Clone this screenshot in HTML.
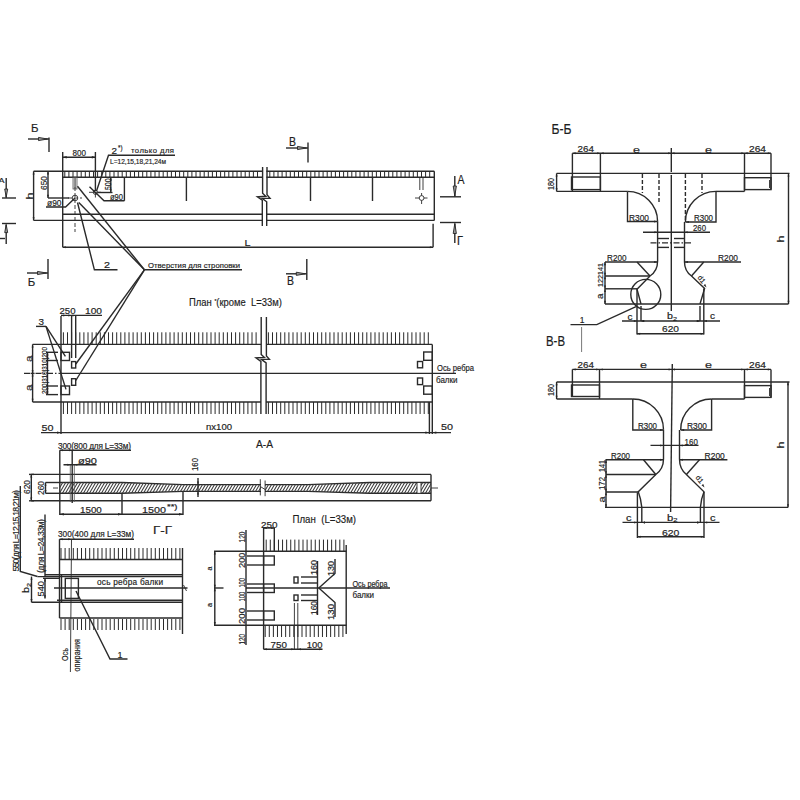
<!DOCTYPE html>
<html><head><meta charset="utf-8"><style>
html,body{margin:0;padding:0;background:#fff;}
svg{display:block;}
svg line,svg polyline,svg path,svg rect,svg circle{fill:none;stroke:#2a2a2a;stroke-width:1.4;stroke-linecap:butt;}
svg .tk{stroke:#2a2a2a;stroke-width:1.0;}
svg .th{stroke:#555;stroke-width:0.8;}
svg .dsh{stroke-dasharray:4 2;}
svg .dd{stroke-dasharray:6 2 1.5 2;}
svg .cl{stroke-dasharray:16 2 2 2;}
svg .ln{stroke-width:0.9;}
svg .ah{fill:#262626;stroke:none;}
svg .oa{fill:#9a9a9a;stroke:#262626;stroke-width:0.9;}
svg text{font-family:"Liberation Sans",sans-serif;fill:#1e1e1e;stroke:#1e1e1e;stroke-width:0.18;}
svg .b{font-weight:bold;}
</style></head><body>
<svg width="800" height="800" viewBox="0 0 800 800">
<line x1="33.6" y1="171.3" x2="262.4" y2="171.3"/>
<line x1="266.4" y1="171.3" x2="434.3" y2="171.3"/>
<line x1="62.7" y1="177.2" x2="262.4" y2="177.2"/>
<line x1="266.4" y1="177.2" x2="434.3" y2="177.2"/>
<path d="M64.8 171.3V177.2M68.9 171.3V177.2M73 171.3V177.2M77.1 171.3V177.2M81.2 171.3V177.2M85.3 171.3V177.2M89.4 171.3V177.2M93.5 171.3V177.2M97.6 171.3V177.2M101.7 171.3V177.2M105.8 171.3V177.2M109.9 171.3V177.2M114 171.3V177.2M118.1 171.3V177.2M122.2 171.3V177.2M126.3 171.3V177.2M130.4 171.3V177.2M134.5 171.3V177.2M138.6 171.3V177.2M142.7 171.3V177.2M146.8 171.3V177.2M150.9 171.3V177.2M155 171.3V177.2M159.1 171.3V177.2M163.2 171.3V177.2M167.3 171.3V177.2M171.4 171.3V177.2M175.5 171.3V177.2M179.6 171.3V177.2M183.7 171.3V177.2M187.8 171.3V177.2M191.9 171.3V177.2M196 171.3V177.2M200.1 171.3V177.2M204.2 171.3V177.2M208.3 171.3V177.2M212.4 171.3V177.2M216.5 171.3V177.2M220.6 171.3V177.2M224.7 171.3V177.2M228.8 171.3V177.2M232.9 171.3V177.2M237 171.3V177.2M241.1 171.3V177.2M245.2 171.3V177.2M249.3 171.3V177.2M253.4 171.3V177.2M257.5 171.3V177.2M269.8 171.3V177.2M273.9 171.3V177.2M278 171.3V177.2M282.1 171.3V177.2M286.2 171.3V177.2M290.3 171.3V177.2M294.4 171.3V177.2M298.5 171.3V177.2M302.6 171.3V177.2M306.7 171.3V177.2M310.8 171.3V177.2M314.9 171.3V177.2M319 171.3V177.2M323.1 171.3V177.2M327.2 171.3V177.2M331.3 171.3V177.2M335.4 171.3V177.2M339.5 171.3V177.2M343.6 171.3V177.2M347.7 171.3V177.2M351.8 171.3V177.2M355.9 171.3V177.2M360 171.3V177.2M364.1 171.3V177.2M368.2 171.3V177.2M372.3 171.3V177.2M376.4 171.3V177.2M380.5 171.3V177.2M384.6 171.3V177.2M388.7 171.3V177.2M392.8 171.3V177.2M396.9 171.3V177.2M401 171.3V177.2M405.1 171.3V177.2M409.2 171.3V177.2M413.3 171.3V177.2M417.4 171.3V177.2M421.5 171.3V177.2M425.6 171.3V177.2M429.7 171.3V177.2" class="tk"/>
<line x1="62.7" y1="152" x2="62.7" y2="247.3"/>
<line x1="434.3" y1="171.3" x2="434.3" y2="220.4"/>
<line x1="62.7" y1="214.3" x2="262.4" y2="214.3"/>
<line x1="266.4" y1="214.3" x2="434.3" y2="214.3"/>
<line x1="33.6" y1="220.4" x2="262.4" y2="220.4"/>
<line x1="266.4" y1="220.4" x2="434.3" y2="220.4"/>
<line x1="433.1" y1="223.7" x2="433.1" y2="247.2"/>
<line x1="62.7" y1="247.2" x2="433.1" y2="247.2"/>
<text x="244.5" y="245.76" font-size="9.9" textLength="6" lengthAdjust="spacingAndGlyphs">L</text>
<line x1="33.6" y1="171.3" x2="33.6" y2="220.4"/>
<text transform="translate(30,199.5) rotate(-90)" x="0" y="2.57" font-size="9.9" textLength="7" lengthAdjust="spacingAndGlyphs">h</text>
<line x1="48" y1="171.3" x2="48" y2="198"/>
<line x1="48" y1="198" x2="69" y2="198"/>
<text transform="translate(44,190) rotate(-90)" x="0" y="3.17" font-size="8.8" textLength="14" lengthAdjust="spacingAndGlyphs">650</text>
<line x1="62.7" y1="157.3" x2="95.8" y2="157.3"/>
<path class="ah" d="M62.7 157.3L66.7 156.1L66.7 158.5Z"/>
<path class="ah" d="M95.8 157.3L91.8 158.5L91.8 156.1Z"/>
<line x1="95.4" y1="152" x2="95.4" y2="191"/>
<text x="72.5" y="155.77" font-size="8.8" textLength="13.5" lengthAdjust="spacingAndGlyphs">800</text>
<circle cx="75" cy="198" r="2.8" class="ln"/>
<line x1="68" y1="198" x2="82" y2="198" class="dsh ln"/>
<line x1="75" y1="187" x2="75" y2="232" class="dsh ln"/>
<rect x="73" y="177.2" width="4" height="11.8" class="th"/>
<line x1="74.3" y1="177.2" x2="74.3" y2="189" class="th"/>
<line x1="75.6" y1="177.2" x2="75.6" y2="189" class="th"/>
<circle cx="95.4" cy="192.3" r="2.1" class="ln"/>
<line x1="89" y1="192.3" x2="101" y2="192.3" class="ln"/>
<line x1="95.4" y1="192" x2="95.4" y2="197.5" class="ln"/>
<line x1="110.8" y1="177.2" x2="110.8" y2="192.5"/>
<line x1="98" y1="192.5" x2="112.5" y2="192.5"/>
<text transform="translate(107.5,190) rotate(-90)" x="0" y="3.17" font-size="8.8" textLength="11.5" lengthAdjust="spacingAndGlyphs">500</text>
<polyline points="89.5,186.7 104,200.8 124.4,200.8"/>
<line x1="124.4" y1="177.2" x2="124.4" y2="200.8"/>
<text x="110" y="200.17" font-size="8.8" textLength="13" lengthAdjust="spacingAndGlyphs">&#248;90</text>
<polyline points="75,198 65.6,207 46,207"/>
<text x="47" y="206.47" font-size="8.8" textLength="14.5" lengthAdjust="spacingAndGlyphs">&#248;90</text>
<polyline points="96.5,191 108.5,155.2 175,155.2"/>
<text x="111.5" y="154.37" font-size="8.8" textLength="5.5" lengthAdjust="spacingAndGlyphs">2</text>
<text x="118" y="149.88" font-size="6.6" textLength="4.5" lengthAdjust="spacingAndGlyphs">*)</text>
<text x="131" y="152.8" font-size="7.7" textLength="43" lengthAdjust="spacing">только для</text>
<text x="110" y="163.57" font-size="7.15" textLength="56" lengthAdjust="spacingAndGlyphs">L=12,15,18,21,24м</text>
<line x1="186.4" y1="177.2" x2="186.4" y2="201"/>
<line x1="310.5" y1="177.2" x2="310.5" y2="201"/>
<line x1="372.5" y1="177.2" x2="372.5" y2="201"/>
<path d="M262.6 167V193.3L265.8 196.3L257.4 196.8L262.3 200.3V226"/>
<path d="M267 167V194.8L270 198.2L262 198.3L266.7 201.8V226"/>
<circle cx="421.6" cy="198" r="2.4" class="ln"/>
<line x1="415" y1="198" x2="419.2" y2="198" class="ln"/>
<line x1="424" y1="198" x2="427.5" y2="198" class="ln"/>
<line x1="421.6" y1="193" x2="421.6" y2="195.6" class="ln"/>
<line x1="421.6" y1="200.4" x2="421.6" y2="204" class="ln"/>
<line x1="419.8" y1="177.2" x2="419.8" y2="190" class="ln"/>
<line x1="423" y1="177.2" x2="423" y2="190" class="ln"/>
<text x="31" y="132.46" font-size="11.55" textLength="7.5" lengthAdjust="spacingAndGlyphs">Б</text>
<line x1="28" y1="139" x2="49" y2="139"/>
<line x1="49" y1="137.5" x2="49" y2="152"/>
<path class="oa" d="M47.5 139L38.5 140.6L38.5 137.4Z"/>
<line x1="48" y1="259" x2="48" y2="279"/>
<line x1="27" y1="273" x2="48" y2="273"/>
<path class="oa" d="M46.5 273L37.5 274.6L37.5 271.4Z"/>
<text x="27.8" y="286.16" font-size="11.55" textLength="7.5" lengthAdjust="spacingAndGlyphs">Б</text>
<text x="289" y="146.36" font-size="12.1" textLength="7" lengthAdjust="spacingAndGlyphs">В</text>
<line x1="286" y1="148" x2="308" y2="148"/>
<line x1="308" y1="142.5" x2="308" y2="162.5"/>
<path class="oa" d="M306.5 148L297.5 149.6L297.5 146.4Z"/>
<line x1="306.8" y1="259" x2="306.8" y2="280"/>
<line x1="286" y1="273.8" x2="306.8" y2="273.8"/>
<path class="oa" d="M305.3 273.8L296.3 275.4L296.3 272.2Z"/>
<text x="287" y="284.86" font-size="12.1" textLength="7" lengthAdjust="spacingAndGlyphs">В</text>
<line x1="440" y1="196.8" x2="461" y2="196.8"/>
<line x1="454.8" y1="176" x2="454.8" y2="196.8"/>
<path class="oa" d="M454.8 196L453.2 186L456.4 186Z"/>
<text x="457.5" y="184.06" font-size="12.1" textLength="7" lengthAdjust="spacingAndGlyphs">А</text>
<line x1="440" y1="222.5" x2="461" y2="222.5"/>
<line x1="454.8" y1="223.5" x2="454.8" y2="243"/>
<path class="oa" d="M454.8 223.5L456.4 233.5L453.2 233.5Z"/>
<text x="457" y="244.56" font-size="12.1" textLength="6" lengthAdjust="spacingAndGlyphs">Г</text>
<line x1="2" y1="198" x2="16" y2="198"/>
<line x1="6.2" y1="178" x2="6.2" y2="198"/>
<path class="oa" d="M6.2 197L4.7 189L7.7 189Z"/>
<text x="-1.5" y="183.27" font-size="7.7" textLength="6" lengthAdjust="spacingAndGlyphs">А</text>
<line x1="2" y1="223.5" x2="16" y2="223.5"/>
<line x1="6.2" y1="224.5" x2="6.2" y2="244"/>
<path class="oa" d="M6.2 224.6L7.7 232.6L4.7 232.6Z"/>
<line x1="0" y1="238.5" x2="5" y2="238.5"/>
<text x="148" y="267.57" font-size="7.7" textLength="92" lengthAdjust="spacing">Отверстия для строповки</text>
<line x1="144.4" y1="269.8" x2="242" y2="269.8"/>
<line x1="144.4" y1="269.8" x2="77.5" y2="186.3"/>
<line x1="144.4" y1="269.8" x2="78.8" y2="202.5"/>
<line x1="144.4" y1="269.8" x2="75.8" y2="364"/>
<line x1="144.4" y1="269.8" x2="75.8" y2="380.5"/>
<polyline points="77.5,202.5 94.4,269.8 117.5,269.8"/>
<text x="104" y="268.47" font-size="8.25" textLength="6" lengthAdjust="spacingAndGlyphs">2</text>
<text x="189" y="306.04" font-size="11.22" textLength="93" lengthAdjust="spacingAndGlyphs">План&#160;<tspan dy="-3" font-size="6">*</tspan><tspan dy="3">(кроме&#160; L=33м)</tspan></text>
<line x1="32.6" y1="344.4" x2="261" y2="344.4"/>
<line x1="266" y1="344.4" x2="432.3" y2="344.4"/>
<line x1="32.6" y1="402" x2="261" y2="402"/>
<line x1="266" y1="402" x2="432.3" y2="402"/>
<line x1="32.6" y1="344.4" x2="32.6" y2="402"/>
<line x1="61" y1="316" x2="61" y2="434"/>
<line x1="432.3" y1="344.4" x2="432.3" y2="434"/>
<line x1="429.4" y1="402" x2="429.4" y2="434"/>
<line x1="24" y1="373.4" x2="61" y2="373.4" class="dd"/>
<line x1="61" y1="373.4" x2="456" y2="373.4"/>
<path d="M63.4 332.3V344.4M67.5 332.3V344.4M71.6 332.3V344.4M75.7 332.3V344.4M79.8 332.3V344.4M83.9 332.3V344.4M88 332.3V344.4M92.1 332.3V344.4M96.2 332.3V344.4M100.3 332.3V344.4M104.4 332.3V344.4M108.5 332.3V344.4M112.6 332.3V344.4M116.7 332.3V344.4M120.8 332.3V344.4M124.9 332.3V344.4M129 332.3V344.4M133.1 332.3V344.4M137.2 332.3V344.4M141.3 332.3V344.4M145.4 332.3V344.4M149.5 332.3V344.4M153.6 332.3V344.4M157.7 332.3V344.4M161.8 332.3V344.4M165.9 332.3V344.4M170 332.3V344.4M174.1 332.3V344.4M178.2 332.3V344.4M182.3 332.3V344.4M186.4 332.3V344.4M190.5 332.3V344.4M194.6 332.3V344.4M198.7 332.3V344.4M202.8 332.3V344.4M206.9 332.3V344.4M211 332.3V344.4M215.1 332.3V344.4M219.2 332.3V344.4M223.3 332.3V344.4M227.4 332.3V344.4M231.5 332.3V344.4M235.6 332.3V344.4M239.7 332.3V344.4M243.8 332.3V344.4M247.9 332.3V344.4M252 332.3V344.4M256.1 332.3V344.4M268.4 332.3V344.4M272.5 332.3V344.4M276.6 332.3V344.4M280.7 332.3V344.4M284.8 332.3V344.4M288.9 332.3V344.4M293 332.3V344.4M297.1 332.3V344.4M301.2 332.3V344.4M305.3 332.3V344.4M309.4 332.3V344.4M313.5 332.3V344.4M317.6 332.3V344.4M321.7 332.3V344.4M325.8 332.3V344.4M329.9 332.3V344.4M334 332.3V344.4M338.1 332.3V344.4M342.2 332.3V344.4M346.3 332.3V344.4M350.4 332.3V344.4M354.5 332.3V344.4M358.6 332.3V344.4M362.7 332.3V344.4M366.8 332.3V344.4M370.9 332.3V344.4M375 332.3V344.4M379.1 332.3V344.4M383.2 332.3V344.4M387.3 332.3V344.4M391.4 332.3V344.4M395.5 332.3V344.4M399.6 332.3V344.4M403.7 332.3V344.4M407.8 332.3V344.4M411.9 332.3V344.4M416 332.3V344.4M420.1 332.3V344.4M424.2 332.3V344.4M428.3 332.3V344.4" class="tk"/>
<path d="M63.4 402V414M67.5 402V414M71.6 402V414M75.7 402V414M79.8 402V414M83.9 402V414M88 402V414M92.1 402V414M96.2 402V414M100.3 402V414M104.4 402V414M108.5 402V414M112.6 402V414M116.7 402V414M120.8 402V414M124.9 402V414M129 402V414M133.1 402V414M137.2 402V414M141.3 402V414M145.4 402V414M149.5 402V414M153.6 402V414M157.7 402V414M161.8 402V414M165.9 402V414M170 402V414M174.1 402V414M178.2 402V414M182.3 402V414M186.4 402V414M190.5 402V414M194.6 402V414M198.7 402V414M202.8 402V414M206.9 402V414M211 402V414M215.1 402V414M219.2 402V414M223.3 402V414M227.4 402V414M231.5 402V414M235.6 402V414M239.7 402V414M243.8 402V414M247.9 402V414M252 402V414M256.1 402V414M268.4 402V414M272.5 402V414M276.6 402V414M280.7 402V414M284.8 402V414M288.9 402V414M293 402V414M297.1 402V414M301.2 402V414M305.3 402V414M309.4 402V414M313.5 402V414M317.6 402V414M321.7 402V414M325.8 402V414M329.9 402V414M334 402V414M338.1 402V414M342.2 402V414M346.3 402V414M350.4 402V414M354.5 402V414M358.6 402V414M362.7 402V414M366.8 402V414M370.9 402V414M375 402V414M379.1 402V414M383.2 402V414M387.3 402V414M391.4 402V414M395.5 402V414M399.6 402V414M403.7 402V414M407.8 402V414M411.9 402V414M416 402V414M420.1 402V414M424.2 402V414M428.3 402V414" class="tk"/>
<path d="M261.2 317V354.4L264.4 357.4L256 357.9L260.9 361.4V414"/>
<path d="M266.4 317V355.9L269.4 359.3L261.4 359.4L266.1 362.9V414"/>
<rect x="61" y="352.3" width="8.5" height="8.2"/>
<rect x="61" y="386" width="8.5" height="8.6"/>
<rect x="71.6" y="361.6" width="4.1" height="6.4"/>
<rect x="71.6" y="378.7" width="4.1" height="6.6"/>
<rect x="423.7" y="352" width="8.6" height="8.3"/>
<rect x="423.7" y="386" width="8.6" height="8.2"/>
<rect x="417.5" y="361.5" width="5.1" height="6.3"/>
<rect x="417.5" y="378" width="5.1" height="6.6"/>
<line x1="47.5" y1="352.3" x2="47.5" y2="394.6"/>
<line x1="46" y1="352.3" x2="58" y2="352.3"/>
<line x1="46" y1="360.5" x2="58" y2="360.5"/>
<line x1="46" y1="386" x2="58" y2="386"/>
<line x1="46" y1="394.6" x2="58" y2="394.6"/>
<text transform="translate(44,394) rotate(-90)" x="0" y="2.77" font-size="7.7" textLength="47" lengthAdjust="spacingAndGlyphs">200|310|310|200</text>
<text transform="translate(29,362) rotate(-90)" x="0" y="2.57" font-size="9.9" textLength="6.5" lengthAdjust="spacingAndGlyphs">a</text>
<text transform="translate(29,391) rotate(-90)" x="0" y="2.57" font-size="9.9" textLength="6.5" lengthAdjust="spacingAndGlyphs">a</text>
<line x1="30.6" y1="373.4" x2="34.6" y2="373.4"/>
<line x1="61" y1="315.4" x2="102" y2="315.4"/>
<line x1="71.6" y1="315.4" x2="71.6" y2="358"/>
<line x1="75.7" y1="315.4" x2="75.7" y2="358"/>
<text x="59.5" y="314.17" font-size="8.8" textLength="16" lengthAdjust="spacingAndGlyphs">250</text>
<text x="85" y="314.17" font-size="8.8" textLength="17" lengthAdjust="spacingAndGlyphs">100</text>
<text x="38.5" y="324.97" font-size="8.8" textLength="5.5" lengthAdjust="spacingAndGlyphs">3</text>
<line x1="36" y1="326.4" x2="46" y2="326.4"/>
<line x1="46" y1="326.4" x2="65.4" y2="356.4"/>
<line x1="46" y1="326.4" x2="66" y2="389.4"/>
<line x1="41" y1="432.6" x2="451" y2="432.6"/>
<path class="ah" d="M61 432.6L57 433.8L57 431.4Z"/>
<path class="ah" d="M429.4 432.6L425.4 433.8L425.4 431.4Z"/>
<path class="ah" d="M432.3 432.6L436.3 431.4L436.3 433.8Z"/>
<text x="41.5" y="431.17" font-size="8.8" textLength="12" lengthAdjust="spacingAndGlyphs">50</text>
<text x="441" y="430.17" font-size="8.8" textLength="12" lengthAdjust="spacingAndGlyphs">50</text>
<text x="206" y="429.59" font-size="8.8" textLength="26" lengthAdjust="spacingAndGlyphs">nх100</text>
<text x="437" y="371.37" font-size="8.25" textLength="37" lengthAdjust="spacingAndGlyphs">Ось ребра</text>
<text x="436" y="383.14" font-size="8.25" textLength="21.5" lengthAdjust="spacingAndGlyphs">балки</text>
<text x="256" y="448.4" font-size="11.66" textLength="17" lengthAdjust="spacingAndGlyphs">А-А</text>
<line x1="31.3" y1="474.4" x2="431" y2="474.4"/>
<line x1="31.3" y1="500.8" x2="431" y2="500.8"/>
<line x1="31.3" y1="474.4" x2="31.3" y2="500.8"/>
<line x1="431" y1="474.4" x2="431" y2="500.8"/>
<line x1="59.8" y1="450.2" x2="59.8" y2="515"/>
<line x1="45.5" y1="482.5" x2="59.8" y2="482.5"/>
<line x1="45.5" y1="493.3" x2="59.8" y2="493.3"/>
<line x1="45.5" y1="482.5" x2="45.5" y2="493.3"/>
<polyline points="59.8,482.5 122,482.5 183,484.6 261,484.6"/>
<polyline points="265,484.6 308,484.6 370,482.5 431,482.5"/>
<polyline points="59.8,493.3 122,493.3 183,491.4 261,491.4"/>
<polyline points="265,491.4 308,491.4 370,493.3 431,493.3"/>
<clipPath id="cpA"><path d="M59.8 482.5L122 482.5L183 484.6L261 484.6L261 491.4L183 491.4L122 493.3L59.8 493.3Z M265 484.6L308 484.6L370 482.5L431 482.5L431 493.3L370 493.3L308 491.4L265 491.4Z"/></clipPath>
<path style="stroke:#3c3c3c;stroke-width:1.05" clip-path="url(#cpA)" d="M50 494L57 482M53 494L60 482M56 494L63 482M59 494L66 482M62 494L69 482M65 494L72 482M68 494L75 482M71 494L78 482M74 494L81 482M77 494L84 482M80 494L87 482M83 494L90 482M86 494L93 482M89 494L96 482M92 494L99 482M95 494L102 482M98 494L105 482M101 494L108 482M104 494L111 482M107 494L114 482M110 494L117 482M113 494L120 482M116 494L123 482M119 494L126 482M122 494L129 482M125 494L132 482M128 494L135 482M131 494L138 482M134 494L141 482M137 494L144 482M140 494L147 482M143 494L150 482M146 494L153 482M149 494L156 482M152 494L159 482M155 494L162 482M158 494L165 482M161 494L168 482M164 494L171 482M167 494L174 482M170 494L177 482M173 494L180 482M176 494L183 482M179 494L186 482M182 494L189 482M185 494L192 482M188 494L195 482M191 494L198 482M194 494L201 482M197 494L204 482M200 494L207 482M203 494L210 482M206 494L213 482M209 494L216 482M212 494L219 482M215 494L222 482M218 494L225 482M221 494L228 482M224 494L231 482M227 494L234 482M230 494L237 482M233 494L240 482M236 494L243 482M239 494L246 482M242 494L249 482M245 494L252 482M248 494L255 482M251 494L258 482M254 494L261 482M257 494L264 482M260 494L267 482M263 494L270 482M266 494L273 482M269 494L276 482M272 494L279 482M275 494L282 482M278 494L285 482M281 494L288 482M284 494L291 482M287 494L294 482M290 494L297 482M293 494L300 482M296 494L303 482M299 494L306 482M302 494L309 482M305 494L312 482M308 494L315 482M311 494L318 482M314 494L321 482M317 494L324 482M320 494L327 482M323 494L330 482M326 494L333 482M329 494L336 482M332 494L339 482M335 494L342 482M338 494L345 482M341 494L348 482M344 494L351 482M347 494L354 482M350 494L357 482M353 494L360 482M356 494L363 482M359 494L366 482M362 494L369 482M365 494L372 482M368 494L375 482M371 494L378 482M374 494L381 482M377 494L384 482M380 494L387 482M383 494L390 482M386 494L393 482M389 494L396 482M392 494L399 482M395 494L402 482M398 494L405 482M401 494L408 482M404 494L411 482M407 494L414 482M410 494L417 482M413 494L420 482M416 494L423 482M419 494L426 482M422 494L429 482M425 494L432 482M428 494L435 482M431 494L438 482M434 494L441 482M437 494L444 482M440 494L447 482M443 494L450 482"/>
<line x1="260.3" y1="479.2" x2="260.3" y2="495.4" class="ln"/>
<line x1="265.1" y1="480.5" x2="265.1" y2="496.2" class="ln"/>
<line x1="260.3" y1="486.5" x2="265.1" y2="489.5" class="ln"/>
<line x1="53" y1="488" x2="58" y2="488" class="ln"/>
<line x1="431" y1="488" x2="438" y2="488" class="ln"/>
<rect x="417" y="482.5" width="4" height="10.8" style="fill:#fff" class="ln"/>
<line x1="70.3" y1="464.8" x2="70.3" y2="502" class="th"/>
<line x1="74.3" y1="464.8" x2="74.3" y2="502" class="th"/>
<line x1="72.2" y1="450.2" x2="72.2" y2="503"/>
<text x="58" y="448.97" font-size="8.25" textLength="73" lengthAdjust="spacing">300(800 для L=33м)</text>
<line x1="59.8" y1="450.2" x2="131" y2="450.2"/>
<text x="78" y="464.17" font-size="8.8" textLength="19" lengthAdjust="spacingAndGlyphs">&#248;90</text>
<line x1="63.5" y1="464.8" x2="96.5" y2="464.8"/>
<line x1="59.8" y1="514.3" x2="183" y2="514.3"/>
<path class="ah" d="M59.8 514.3L63.8 513.1L63.8 515.5Z"/>
<path class="ah" d="M122 514.3L118 515.5L118 513.1Z"/>
<path class="ah" d="M183 514.3L179 515.5L179 513.1Z"/>
<line x1="122" y1="493.3" x2="122" y2="515"/>
<line x1="183" y1="491.4" x2="183" y2="515"/>
<text x="80" y="512.97" font-size="8.8" textLength="21.8" lengthAdjust="spacingAndGlyphs">1500</text>
<text x="142" y="513.17" font-size="8.8" textLength="24" lengthAdjust="spacingAndGlyphs">1500</text>
<text x="167" y="508.88" font-size="6.6" textLength="10.5" lengthAdjust="spacingAndGlyphs">**)</text>
<text transform="translate(195,471) rotate(-90)" x="0" y="3.17" font-size="8.8" textLength="13" lengthAdjust="spacingAndGlyphs">160</text>
<line x1="198" y1="478" x2="198" y2="497"/>
<path class="ah" d="M198 484.6L197 481.6L199 481.6Z"/>
<path class="ah" d="M198 491.4L199 494.4L197 494.4Z"/>
<text transform="translate(26.8,494) rotate(-90)" x="0" y="3.17" font-size="8.8" textLength="14" lengthAdjust="spacingAndGlyphs">620</text>
<text transform="translate(41,495) rotate(-90)" x="0" y="3.17" font-size="8.8" textLength="14" lengthAdjust="spacingAndGlyphs">260</text>
<line x1="29" y1="474.4" x2="34" y2="474.4"/>
<line x1="29" y1="500.8" x2="34" y2="500.8"/>
<text x="153" y="534.2" font-size="11.66" textLength="19" lengthAdjust="spacingAndGlyphs">Г-Г</text>
<text x="58" y="537.47" font-size="8.25" textLength="76" lengthAdjust="spacing">300(400 для L=33м)</text>
<line x1="59.5" y1="539.2" x2="134" y2="539.2"/>
<line x1="59.5" y1="539.2" x2="59.5" y2="618"/>
<line x1="61.5" y1="574.8" x2="61.5" y2="602.3"/>
<line x1="71.5" y1="539.2" x2="70.4" y2="672" class="ln"/>
<path d="M61 548V559.5M65.1 548V559.5M69.2 548V559.5M73.3 548V559.5M77.4 548V559.5M81.5 548V559.5M85.6 548V559.5M89.7 548V559.5M93.8 548V559.5M97.9 548V559.5M102 548V559.5M106.1 548V559.5M110.2 548V559.5M114.3 548V559.5M118.4 548V559.5M122.5 548V559.5M126.6 548V559.5M130.7 548V559.5M134.8 548V559.5M138.9 548V559.5M143 548V559.5M147.1 548V559.5M151.2 548V559.5M155.3 548V559.5M159.4 548V559.5M163.5 548V559.5M167.6 548V559.5M171.7 548V559.5M175.8 548V559.5M179.9 548V559.5" class="tk"/>
<line x1="59.5" y1="559.5" x2="182.5" y2="559.5"/>
<line x1="45" y1="574.8" x2="182.5" y2="574.8"/>
<line x1="37.5" y1="576.6" x2="182.5" y2="576.6"/>
<line x1="57" y1="600.3" x2="182.5" y2="600.3"/>
<line x1="31.5" y1="602.3" x2="182.5" y2="602.3"/>
<line x1="59.5" y1="618" x2="182.5" y2="618"/>
<line x1="182.5" y1="548" x2="182.5" y2="634"/>
<path d="M61 619V630M65.1 619V630M69.2 619V630M73.3 619V630M77.4 619V630M81.5 619V630M85.6 619V630M89.7 619V630M93.8 619V630M97.9 619V630M102 619V630M106.1 619V630M110.2 619V630M114.3 619V630M118.4 619V630M122.5 619V630M126.6 619V630M130.7 619V630M134.8 619V630M138.9 619V630M143 619V630M147.1 619V630M151.2 619V630M155.3 619V630M159.4 619V630M163.5 619V630M167.6 619V630M171.7 619V630M175.8 619V630M179.9 619V630" class="tk"/>
<rect x="65.3" y="578.4" width="13.1" height="20"/>
<line x1="54" y1="588" x2="187.5" y2="588"/>
<line x1="183.5" y1="585" x2="186.5" y2="591" class="ln"/>
<text x="97" y="585.35" font-size="8.25" textLength="66" lengthAdjust="spacing">ось ребра балки</text>
<line x1="31.5" y1="576.6" x2="31.5" y2="602.3"/>
<text transform="translate(27,593) rotate(-90)" x="0" y="2.29" font-size="8.8" textLength="10" lengthAdjust="spacingAndGlyphs">b<tspan font-size="6" dy="1.5">2</tspan></text>
<line x1="45" y1="578.3" x2="45" y2="598.5"/>
<line x1="43" y1="578.3" x2="60" y2="578.3"/>
<text transform="translate(40.5,596.5) rotate(-90)" x="0" y="3.17" font-size="8.8" textLength="15.5" lengthAdjust="spacingAndGlyphs">540</text>
<text transform="translate(15.8,571.5) rotate(-90)" x="0" y="3.17" font-size="8.8" textLength="81.5" lengthAdjust="spacing">550(для L=12,15,18,21м)</text>
<polyline points="20.3,486 20.3,571.5 37.5,576.5"/>
<text transform="translate(40.5,573) rotate(-90)" x="0" y="3.17" font-size="8.8" textLength="54" lengthAdjust="spacing">(для L=24,33м)</text>
<line x1="45" y1="514.5" x2="45" y2="576.5"/>
<text x="117.5" y="657.67" font-size="8.8" textLength="5" lengthAdjust="spacingAndGlyphs">1</text>
<polyline points="76,591 110,659 127.5,659"/>
<text transform="translate(65,661) rotate(-90)" x="0" y="3.25" font-size="9.02" textLength="13" lengthAdjust="spacingAndGlyphs">Ось</text>
<text transform="translate(77.5,671.6) rotate(-90)" x="0" y="2.15" font-size="8.25" textLength="32.6" lengthAdjust="spacingAndGlyphs">опирания</text>
<text x="292.5" y="523.04" font-size="11.22" textLength="63.5" lengthAdjust="spacingAndGlyphs">План&#160; (L=33м)</text>
<text x="261" y="527.67" font-size="8.8" textLength="16.5" lengthAdjust="spacingAndGlyphs">250</text>
<line x1="263.6" y1="528" x2="274.3" y2="528"/>
<line x1="263.6" y1="528" x2="263.6" y2="649.3"/>
<line x1="274.3" y1="528" x2="274.3" y2="551.3"/>
<path d="M266.2 539.6V551.3M270.29 539.6V551.3M274.38 539.6V551.3M278.47 539.6V551.3M282.56 539.6V551.3M286.65 539.6V551.3M290.74 539.6V551.3M294.83 539.6V551.3M298.92 539.6V551.3M303.01 539.6V551.3M307.1 539.6V551.3M311.19 539.6V551.3M315.28 539.6V551.3M319.37 539.6V551.3M323.46 539.6V551.3M327.55 539.6V551.3M331.64 539.6V551.3M335.73 539.6V551.3M339.82 539.6V551.3M343.91 539.6V551.3" class="tk"/>
<line x1="214" y1="551.3" x2="346.5" y2="551.3"/>
<line x1="214.8" y1="551.3" x2="214.8" y2="625.3"/>
<line x1="214" y1="625.3" x2="346.5" y2="625.3"/>
<path d="M265.2 625.3V637M269.29 625.3V637M273.38 625.3V637M277.47 625.3V637M281.56 625.3V637M285.65 625.3V637M289.74 625.3V637M293.83 625.3V637M297.92 625.3V637M302.01 625.3V637M306.1 625.3V637M310.19 625.3V637M314.28 625.3V637M318.37 625.3V637M322.46 625.3V637M326.55 625.3V637M330.64 625.3V637M334.73 625.3V637M338.82 625.3V637M342.91 625.3V637" class="tk"/>
<line x1="346.2" y1="545" x2="346.2" y2="634"/>
<line x1="214" y1="588" x2="223.5" y2="588"/>
<line x1="246" y1="588" x2="390" y2="588"/>
<rect x="263.6" y="556" width="10.7" height="9"/>
<line x1="247" y1="556" x2="263.6" y2="556"/>
<line x1="247" y1="565" x2="263.6" y2="565"/>
<rect x="263.6" y="584" width="10.7" height="8.5"/>
<line x1="247" y1="584" x2="263.6" y2="584"/>
<line x1="247" y1="592.5" x2="263.6" y2="592.5"/>
<rect x="263.6" y="611" width="10.7" height="9"/>
<line x1="247" y1="611" x2="263.6" y2="611"/>
<line x1="247" y1="620" x2="263.6" y2="620"/>
<line x1="246" y1="530" x2="246" y2="645"/>
<text transform="translate(242,542.5) rotate(-90)" x="0" y="3.17" font-size="8.8" textLength="11" lengthAdjust="spacingAndGlyphs">120</text>
<text transform="translate(242,568) rotate(-90)" x="0" y="3.37" font-size="9.35" textLength="15.4" lengthAdjust="spacingAndGlyphs">200</text>
<text transform="translate(242,587.6) rotate(-90)" x="0" y="3.09" font-size="8.58" textLength="9.6" lengthAdjust="spacingAndGlyphs">100</text>
<text transform="translate(242,601.4) rotate(-90)" x="0" y="3.09" font-size="8.58" textLength="9.7" lengthAdjust="spacingAndGlyphs">100</text>
<text transform="translate(242,624) rotate(-90)" x="0" y="3.37" font-size="9.35" textLength="16" lengthAdjust="spacingAndGlyphs">200</text>
<text transform="translate(242,644.5) rotate(-90)" x="0" y="3.17" font-size="8.8" textLength="10.5" lengthAdjust="spacingAndGlyphs">120</text>
<text transform="translate(210.3,570.5) rotate(-90)" x="0" y="1.72" font-size="6.6" textLength="4" lengthAdjust="spacingAndGlyphs">a</text>
<text transform="translate(210.3,607) rotate(-90)" x="0" y="1.72" font-size="6.6" textLength="4" lengthAdjust="spacingAndGlyphs">a</text>
<rect x="294" y="577" width="4" height="6"/>
<rect x="294" y="595" width="4" height="5.5"/>
<line x1="301" y1="577" x2="317.5" y2="577"/>
<line x1="301" y1="583" x2="317.5" y2="583"/>
<line x1="301" y1="595" x2="317.5" y2="595"/>
<line x1="301" y1="600.5" x2="317.5" y2="600.5"/>
<line x1="317.5" y1="561" x2="317.5" y2="615"/>
<text transform="translate(314.3,575) rotate(-90)" x="0" y="3.17" font-size="8.8" textLength="15" lengthAdjust="spacingAndGlyphs">160</text>
<text transform="translate(314.3,615) rotate(-90)" x="0" y="3.17" font-size="8.8" textLength="14" lengthAdjust="spacingAndGlyphs">160</text>
<text transform="translate(331.3,576) rotate(-90)" x="0" y="3.17" font-size="8.8" textLength="15" lengthAdjust="spacingAndGlyphs">130</text>
<text transform="translate(331.3,620) rotate(-90)" x="0" y="3.17" font-size="8.8" textLength="16" lengthAdjust="spacingAndGlyphs">130</text>
<polyline points="318.8,588 335,573.5 335,559"/>
<polyline points="318.8,588 335,602.5 335,617"/>
<line x1="294.4" y1="603" x2="294.4" y2="649.3" class="ln"/>
<line x1="297.8" y1="603" x2="297.8" y2="649.3" class="ln"/>
<line x1="263.6" y1="649.3" x2="322.5" y2="649.3"/>
<text x="270.6" y="647.97" font-size="8.8" textLength="16.4" lengthAdjust="spacingAndGlyphs">750</text>
<text x="306.7" y="647.97" font-size="8.8" textLength="15.7" lengthAdjust="spacingAndGlyphs">100</text>
<text x="352.5" y="587.47" font-size="8.25" textLength="35" lengthAdjust="spacingAndGlyphs">Ось ребра</text>
<text x="352.5" y="598.14" font-size="8.25" textLength="21.5" lengthAdjust="spacingAndGlyphs">балки</text>
<text x="551.5" y="134.25" font-size="13.75" textLength="20" lengthAdjust="spacingAndGlyphs">Б-Б</text>
<line x1="572.4" y1="153.3" x2="771" y2="153.3"/>
<line x1="572.4" y1="153.3" x2="572.4" y2="191"/>
<line x1="600.4" y1="153.3" x2="600.4" y2="191.4"/>
<line x1="744.5" y1="153.3" x2="744.5" y2="191.4"/>
<line x1="771" y1="153.3" x2="771" y2="189.6"/>
<line x1="671.3" y1="148" x2="671.3" y2="172"/>
<line x1="671.3" y1="175" x2="671.3" y2="311"/>
<text x="577.6" y="152.17" font-size="8.8" textLength="16.4" lengthAdjust="spacingAndGlyphs">264</text>
<text x="633" y="152.57" font-size="9.9" textLength="7" lengthAdjust="spacingAndGlyphs">e</text>
<text x="705" y="152.57" font-size="9.9" textLength="7" lengthAdjust="spacingAndGlyphs">e</text>
<text x="749" y="152.17" font-size="8.8" textLength="17" lengthAdjust="spacingAndGlyphs">264</text>
<line x1="556.6" y1="173.4" x2="789.5" y2="173.4"/>
<line x1="556.6" y1="191.4" x2="627.5" y2="191.4"/>
<line x1="716" y1="191.4" x2="744.5" y2="191.4"/>
<rect x="571.5" y="177" width="28.9" height="12.6"/>
<rect x="744.5" y="177.7" width="26.5" height="11.9"/>
<line x1="769.5" y1="180" x2="769.5" y2="188" class="ln"/>
<line x1="556.6" y1="173.4" x2="556.6" y2="191.4"/>
<text transform="translate(551,190) rotate(-90)" x="0" y="3.17" font-size="8.8" textLength="12" lengthAdjust="spacingAndGlyphs">180</text>
<path d="M627.5 191.4A30.1 30.1 0 0 1 657.6 221.5"/>
<path d="M716 191.4A30.6 30.6 0 0 0 685.4 222"/>
<polyline points="627.5,191.4 627.5,221.5 657.6,221.5"/>
<polyline points="716,191.4 716,222 685.4,222"/>
<text x="629" y="221.17" font-size="8.8" textLength="20" lengthAdjust="spacingAndGlyphs">R300</text>
<text x="694" y="221.17" font-size="8.8" textLength="19" lengthAdjust="spacingAndGlyphs">R300</text>
<line x1="642.4" y1="174" x2="642.4" y2="193" class="dsh"/>
<line x1="659" y1="174" x2="659" y2="204" class="dsh"/>
<line x1="702" y1="174" x2="702" y2="193" class="dsh"/>
<line x1="685.4" y1="174" x2="685.4" y2="222" class="dsh"/>
<line x1="657.6" y1="221.5" x2="657.6" y2="261"/>
<line x1="684.5" y1="222" x2="684.5" y2="262"/>
<line x1="643" y1="232.3" x2="710" y2="232.3"/>
<text x="693" y="231.47" font-size="8.8" textLength="13" lengthAdjust="spacingAndGlyphs">260</text>
<line x1="658" y1="238.5" x2="669" y2="238.5"/>
<line x1="674" y1="238.5" x2="684.6" y2="238.5"/>
<line x1="650.5" y1="242.9" x2="692.5" y2="242.9" class="dd"/>
<line x1="658" y1="247.4" x2="669" y2="247.4"/>
<line x1="674" y1="247.4" x2="684.6" y2="247.4"/>
<path d="M657.6 261Q657.6 271 650 276L637 289.2L641 304"/>
<path d="M684.5 262Q684.5 271 691.5 276L704.6 288.4L700 304"/>
<line x1="605" y1="304" x2="788.5" y2="304"/>
<line x1="788.5" y1="173.4" x2="788.5" y2="304"/>
<text transform="translate(782,242.5) rotate(-90)" x="0" y="2.29" font-size="8.8" textLength="7" lengthAdjust="spacingAndGlyphs">h</text>
<line x1="605" y1="262" x2="605" y2="304"/>
<line x1="605" y1="262" x2="657.6" y2="262"/>
<line x1="605" y1="276" x2="650" y2="276"/>
<line x1="605" y1="288.8" x2="637" y2="288.8"/>
<text x="607" y="260.77" font-size="8.8" textLength="19.5" lengthAdjust="spacingAndGlyphs">R200</text>
<line x1="637" y1="262" x2="650" y2="276"/>
<text x="718" y="260.77" font-size="8.8" textLength="20" lengthAdjust="spacingAndGlyphs">R200</text>
<line x1="684.5" y1="262" x2="741" y2="262"/>
<line x1="703.8" y1="262" x2="691.5" y2="276"/>
<text transform="translate(600.5,287) rotate(-90)" x="0" y="2.77" font-size="7.7" textLength="24" lengthAdjust="spacingAndGlyphs">122141</text>
<text transform="translate(601,299) rotate(-90)" x="0" y="2.29" font-size="8.8" textLength="5.5" lengthAdjust="spacingAndGlyphs">a</text>
<text transform="translate(701.5,279.5) rotate(50)" x="0" y="2.15" font-size="7.15" text-anchor="middle" textLength="8" lengthAdjust="spacingAndGlyphs">d1</text>
<path class="ah" d="M706.5 287.5L703.52 285.36L705.28 284.04Z"/>
<circle cx="645.8" cy="294.4" r="15"/>
<polyline points="636,306.6 596.8,324.6 570.5,324.6"/>
<text x="579.8" y="323.17" font-size="9.35" textLength="4.7" lengthAdjust="spacingAndGlyphs">1</text>
<line x1="622" y1="321" x2="720" y2="321"/>
<text x="627.5" y="319.79" font-size="8.8" textLength="5" lengthAdjust="spacingAndGlyphs">c</text>
<text x="667" y="319.29" font-size="8.8" textLength="10" lengthAdjust="spacingAndGlyphs">b<tspan font-size="6" dy="1.5">2</tspan></text>
<text x="710" y="318.79" font-size="8.8" textLength="5" lengthAdjust="spacingAndGlyphs">c</text>
<line x1="637" y1="289.2" x2="637" y2="334.5"/>
<line x1="641" y1="306" x2="641" y2="321"/>
<line x1="700" y1="306" x2="700" y2="321"/>
<line x1="703.8" y1="288.4" x2="703.8" y2="334.5"/>
<line x1="637" y1="333.8" x2="703.8" y2="333.8"/>
<text x="662" y="332.17" font-size="8.8" textLength="17" lengthAdjust="spacingAndGlyphs">620</text>
<line x1="581.6" y1="327" x2="581.6" y2="352" class="th"/>
<text x="546" y="346.35" font-size="13.75" textLength="19" lengthAdjust="spacingAndGlyphs">В-В</text>
<line x1="572.4" y1="369.4" x2="771" y2="369.4"/>
<line x1="572.4" y1="369.4" x2="572.4" y2="397"/>
<line x1="599.5" y1="369.4" x2="599.5" y2="399"/>
<line x1="744.5" y1="369.4" x2="744.5" y2="399"/>
<line x1="771" y1="369.4" x2="771" y2="397.4"/>
<line x1="672.3" y1="364" x2="670.6" y2="512"/>
<text x="577.6" y="368.17" font-size="8.8" textLength="16.4" lengthAdjust="spacingAndGlyphs">264</text>
<text x="640" y="367.57" font-size="9.9" textLength="7" lengthAdjust="spacingAndGlyphs">e</text>
<text x="705" y="367.57" font-size="9.9" textLength="7" lengthAdjust="spacingAndGlyphs">e</text>
<text x="749" y="368.17" font-size="8.8" textLength="17" lengthAdjust="spacingAndGlyphs">264</text>
<line x1="556.6" y1="382" x2="789.5" y2="382"/>
<line x1="556.6" y1="399" x2="632.8" y2="399"/>
<line x1="711.6" y1="399" x2="744.5" y2="399"/>
<rect x="571.5" y="385" width="28" height="11.5"/>
<rect x="744.5" y="385.6" width="26.5" height="11.8"/>
<line x1="769.5" y1="388" x2="769.5" y2="396" class="ln"/>
<line x1="556.6" y1="382" x2="556.6" y2="399"/>
<text transform="translate(551,396) rotate(-90)" x="0" y="3.17" font-size="8.8" textLength="12" lengthAdjust="spacingAndGlyphs">180</text>
<path d="M632.8 399A30.7 30.7 0 0 1 663.5 429.7"/>
<path d="M711.6 399A30.9 30.9 0 0 0 680.7 429.9"/>
<polyline points="632.8,399 632.8,430 663.5,430"/>
<polyline points="711.6,399 711.6,430 680.7,430"/>
<text x="638" y="429.17" font-size="8.8" textLength="19" lengthAdjust="spacingAndGlyphs">R300</text>
<text x="687" y="429.17" font-size="8.8" textLength="20" lengthAdjust="spacingAndGlyphs">R300</text>
<line x1="663.5" y1="430" x2="663.5" y2="459"/>
<line x1="679.5" y1="430" x2="679.5" y2="459"/>
<line x1="650.5" y1="445.4" x2="698.5" y2="445.4"/>
<text x="684.6" y="444.67" font-size="8.8" textLength="13.2" lengthAdjust="spacingAndGlyphs">160</text>
<path d="M663.5 459Q663.5 469 655.8 474.5L638.3 491.8Q641 499 641.8 507.4"/>
<path d="M679.5 459Q679.5 469 686.4 474.5L704 491.8Q701 499 700.4 507.4"/>
<line x1="605" y1="507.4" x2="788" y2="507.4"/>
<line x1="788" y1="382" x2="788" y2="507.4"/>
<text transform="translate(781.5,448.5) rotate(-90)" x="0" y="2.29" font-size="8.8" textLength="7" lengthAdjust="spacingAndGlyphs">h</text>
<line x1="606" y1="459.3" x2="606" y2="507.4"/>
<line x1="606" y1="459.8" x2="663.5" y2="459.8"/>
<line x1="606" y1="474.5" x2="655.8" y2="474.5"/>
<line x1="606" y1="492" x2="638.3" y2="492"/>
<text x="611" y="458.97" font-size="8.8" textLength="19" lengthAdjust="spacingAndGlyphs">R200</text>
<line x1="643.5" y1="459.8" x2="655.8" y2="474.5"/>
<text x="704.6" y="458.87" font-size="8.8" textLength="20.2" lengthAdjust="spacingAndGlyphs">R200</text>
<line x1="679.5" y1="459.8" x2="727.4" y2="459.8"/>
<line x1="699.5" y1="459.8" x2="686.4" y2="474.5"/>
<text transform="translate(602.4,472) rotate(-90)" x="0" y="2.97" font-size="8.25" textLength="12" lengthAdjust="spacingAndGlyphs">141</text>
<text transform="translate(602.4,490) rotate(-90)" x="0" y="2.97" font-size="8.25" textLength="13" lengthAdjust="spacingAndGlyphs">172</text>
<text transform="translate(602.4,502.5) rotate(-90)" x="0" y="2.29" font-size="8.8" textLength="6" lengthAdjust="spacingAndGlyphs">a</text>
<text transform="translate(699.5,479.5) rotate(50)" x="0" y="2.15" font-size="7.15" text-anchor="middle" textLength="8" lengthAdjust="spacingAndGlyphs">d1</text>
<path class="ah" d="M704.5 487.5L701.52 485.36L703.28 484.04Z"/>
<line x1="622.5" y1="522.4" x2="719.5" y2="522.4"/>
<text x="626" y="521.09" font-size="8.8" textLength="5.5" lengthAdjust="spacingAndGlyphs">c</text>
<text x="667" y="520.79" font-size="8.8" textLength="10.5" lengthAdjust="spacingAndGlyphs">b<tspan font-size="6" dy="1.5">2</tspan></text>
<text x="710" y="520.59" font-size="8.8" textLength="5.5" lengthAdjust="spacingAndGlyphs">c</text>
<line x1="637.4" y1="492.5" x2="637.4" y2="538"/>
<line x1="641.8" y1="507.4" x2="641.8" y2="522.4"/>
<line x1="700.4" y1="507.4" x2="700.4" y2="522.4"/>
<line x1="704" y1="492" x2="704" y2="538"/>
<line x1="637.4" y1="536.8" x2="704" y2="536.8"/>
<text x="662" y="535.97" font-size="8.8" textLength="17.4" lengthAdjust="spacingAndGlyphs">620</text>
<path class="ah" d="M572.4 153.3L575.6 152.3L575.6 154.3Z"/>
<path class="ah" d="M600.4 153.3L597.2 154.3L597.2 152.3Z"/>
<path class="ah" d="M600.4 153.3L603.6 152.3L603.6 154.3Z"/>
<path class="ah" d="M671.3 153.3L668.1 154.3L668.1 152.3Z"/>
<path class="ah" d="M671.3 153.3L674.5 152.3L674.5 154.3Z"/>
<path class="ah" d="M744.5 153.3L741.3 154.3L741.3 152.3Z"/>
<path class="ah" d="M744.5 153.3L747.7 152.3L747.7 154.3Z"/>
<path class="ah" d="M771 153.3L767.8 154.3L767.8 152.3Z"/>
<path class="ah" d="M572.4 369.4L575.6 368.4L575.6 370.4Z"/>
<path class="ah" d="M599.5 369.4L596.3 370.4L596.3 368.4Z"/>
<path class="ah" d="M599.5 369.4L602.7 368.4L602.7 370.4Z"/>
<path class="ah" d="M671.8 369.4L668.6 370.4L668.6 368.4Z"/>
<path class="ah" d="M671.8 369.4L675 368.4L675 370.4Z"/>
<path class="ah" d="M744.5 369.4L741.3 370.4L741.3 368.4Z"/>
<path class="ah" d="M744.5 369.4L747.7 368.4L747.7 370.4Z"/>
<path class="ah" d="M771 369.4L767.8 370.4L767.8 368.4Z"/>
<path class="ah" d="M637 333.8L640.2 332.8L640.2 334.8Z"/>
<path class="ah" d="M703.8 333.8L700.6 334.8L700.6 332.8Z"/>
<path class="ah" d="M637.4 536.8L640.6 535.8L640.6 537.8Z"/>
<path class="ah" d="M704 536.8L700.8 537.8L700.8 535.8Z"/>
<path class="ah" d="M641 321L644.2 320L644.2 322Z"/>
<path class="ah" d="M700 321L696.8 322L696.8 320Z"/>
<path class="ah" d="M641.8 522.4L645 521.4L645 523.4Z"/>
<path class="ah" d="M700.4 522.4L697.2 523.4L697.2 521.4Z"/>
<path class="ah" d="M637 321L633.8 322L633.8 320Z"/>
<path class="ah" d="M641 321L644.2 320L644.2 322Z"/>
<path class="ah" d="M700 321L696.8 322L696.8 320Z"/>
<path class="ah" d="M703.8 321L707 320L707 322Z"/>
<path class="ah" d="M637.4 522.4L634.2 523.4L634.2 521.4Z"/>
<path class="ah" d="M641.8 522.4L645 521.4L645 523.4Z"/>
<path class="ah" d="M700.4 522.4L697.2 523.4L697.2 521.4Z"/>
<path class="ah" d="M704 522.4L707.2 521.4L707.2 523.4Z"/>
<path class="ah" d="M788.5 173.4L789.5 176.6L787.5 176.6Z"/>
<path class="ah" d="M788.5 304L787.5 300.8L789.5 300.8Z"/>
<path class="ah" d="M788 382L789 385.2L787 385.2Z"/>
<path class="ah" d="M788 507.4L787 504.2L789 504.2Z"/>
<path class="ah" d="M556.6 173.4L557.6 176.6L555.6 176.6Z"/>
<path class="ah" d="M556.6 191.4L555.6 188.2L557.6 188.2Z"/>
<path class="ah" d="M556.6 382L557.6 385.2L555.6 385.2Z"/>
<path class="ah" d="M556.6 399L555.6 395.8L557.6 395.8Z"/>
<path class="ah" d="M605 262L606 265.2L604 265.2Z"/>
<path class="ah" d="M605 276L604 272.8L606 272.8Z"/>
<path class="ah" d="M605 276L606 279.2L604 279.2Z"/>
<path class="ah" d="M605 288.8L604 285.6L606 285.6Z"/>
<path class="ah" d="M605 288.8L606 292L604 292Z"/>
<path class="ah" d="M605 304L604 300.8L606 300.8Z"/>
<path class="ah" d="M606 459.8L607 463L605 463Z"/>
<path class="ah" d="M606 474.5L605 471.3L607 471.3Z"/>
<path class="ah" d="M606 474.5L607 477.7L605 477.7Z"/>
<path class="ah" d="M606 492L605 488.8L607 488.8Z"/>
<path class="ah" d="M606 492L607 495.2L605 495.2Z"/>
<path class="ah" d="M606 507.4L605 504.2L607 504.2Z"/>
<path class="ah" d="M657.6 232.3L654.4 233.3L654.4 231.3Z"/>
<path class="ah" d="M684.5 232.3L687.7 231.3L687.7 233.3Z"/>
<path class="ah" d="M663.5 445.4L660.3 446.4L660.3 444.4Z"/>
<path class="ah" d="M679.5 445.4L682.7 444.4L682.7 446.4Z"/>
<path class="ah" d="M657.6 262L654.1 263L654.1 261Z"/>
<path class="ah" d="M684.5 262L688 261L688 263Z"/>
<path class="ah" d="M663.5 459.8L660 460.8L660 458.8Z"/>
<path class="ah" d="M679.5 459.8L683 458.8L683 460.8Z"/>
<path class="ah" d="M657.6 221.5L654.1 222.5L654.1 220.5Z"/>
<path class="ah" d="M685.4 222L688.9 221L688.9 223Z"/>
<path class="ah" d="M663.5 430L660 431L660 429Z"/>
<path class="ah" d="M680.7 430L684.2 429L684.2 431Z"/>
<path class="ah" d="M62.7 247.2L65.9 246.2L65.9 248.2Z"/>
<path class="ah" d="M433.1 247.2L429.9 248.2L429.9 246.2Z"/>
<path class="ah" d="M33.6 171.3L34.6 174.5L32.6 174.5Z"/>
<path class="ah" d="M33.6 220.4L32.6 217.2L34.6 217.2Z"/>
<path class="ah" d="M48 171.3L49 174.5L47 174.5Z"/>
<path class="ah" d="M48 198L47 194.8L49 194.8Z"/>
<path class="ah" d="M110.8 177.2L111.8 180.4L109.8 180.4Z"/>
<path class="ah" d="M110.8 192.5L109.8 189.3L111.8 189.3Z"/>
<path class="ah" d="M32.6 344.4L33.6 347.6L31.6 347.6Z"/>
<path class="ah" d="M32.6 373.4L31.6 370.2L33.6 370.2Z"/>
<path class="ah" d="M32.6 373.4L33.6 376.6L31.6 376.6Z"/>
<path class="ah" d="M32.6 402L31.6 398.8L33.6 398.8Z"/>
<path class="ah" d="M61 315.4L64.2 314.4L64.2 316.4Z"/>
<path class="ah" d="M71.6 315.4L68.4 316.4L68.4 314.4Z"/>
<path class="ah" d="M75.7 315.4L72.5 316.4L72.5 314.4Z"/>
<path class="ah" d="M47.5 352.3L48.5 355.5L46.5 355.5Z"/>
<path class="ah" d="M47.5 360.5L46.5 357.3L48.5 357.3Z"/>
<path class="ah" d="M47.5 386L48.5 389.2L46.5 389.2Z"/>
<path class="ah" d="M47.5 394.6L46.5 391.4L48.5 391.4Z"/>
<path class="ah" d="M31.3 474.4L32.3 477.6L30.3 477.6Z"/>
<path class="ah" d="M31.3 500.8L30.3 497.6L32.3 497.6Z"/>
<path class="ah" d="M45.5 482.5L46.5 485.7L44.5 485.7Z"/>
<path class="ah" d="M45.5 493.3L44.5 490.1L46.5 490.1Z"/>
<path class="ah" d="M59.8 450.2L63 449.2L63 451.2Z"/>
<path class="ah" d="M72.2 450.2L69 451.2L69 449.2Z"/>
<path class="ah" d="M70.3 464.8L67.3 465.8L67.3 463.8Z"/>
<path class="ah" d="M74.3 464.8L77.3 463.8L77.3 465.8Z"/>
<path class="ah" d="M31.5 576.6L32.5 579.8L30.5 579.8Z"/>
<path class="ah" d="M31.5 602.3L30.5 599.1L32.5 599.1Z"/>
<path class="ah" d="M45 578.4L46 581.6L44 581.6Z"/>
<path class="ah" d="M45 598.4L44 595.2L46 595.2Z"/>
<path class="ah" d="M59.5 539.2L62.7 538.2L62.7 540.2Z"/>
<path class="ah" d="M71.3 539.2L68.1 540.2L68.1 538.2Z"/>
<path class="ah" d="M214.8 551.3L215.8 554.5L213.8 554.5Z"/>
<path class="ah" d="M214.8 588L213.8 584.8L215.8 584.8Z"/>
<path class="ah" d="M214.8 588L215.8 591.2L213.8 591.2Z"/>
<path class="ah" d="M214.8 625.3L213.8 622.1L215.8 622.1Z"/>
<path class="ah" d="M263.6 528L266.8 527L266.8 529Z"/>
<path class="ah" d="M274.3 528L271.1 529L271.1 527Z"/>
<path class="ah" d="M263.6 649.3L266.8 648.3L266.8 650.3Z"/>
<path class="ah" d="M294.4 649.3L291.2 650.3L291.2 648.3Z"/>
<path class="ah" d="M297.8 649.3L301 648.3L301 650.3Z"/>
<path class="ah" d="M322.5 649.3L319.3 650.3L319.3 648.3Z"/>
</svg>
</body></html>
